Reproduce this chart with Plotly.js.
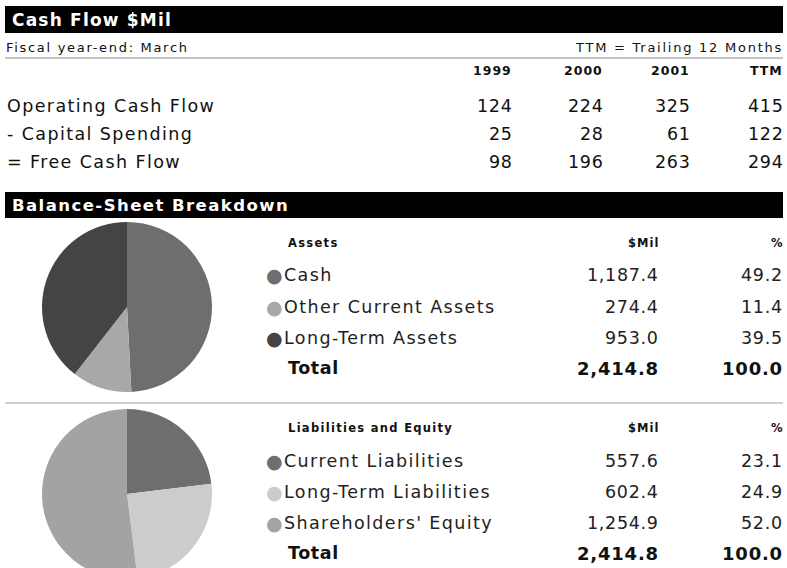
<!DOCTYPE html>
<html>
<head>
<meta charset="utf-8">
<script src="https://cdn.plot.ly/plotly-3.0.1.min.js"></script>
<style>
html,body{margin:0;padding:0;overflow:hidden;background:#fff;}
#chart{width:787px;height:600px;}
</style>
</head>
<body>
<div id="chart"></div>
<script>
// ---- Data ----
const years = ['1999', '2000', '2001', 'TTM'];
const cashFlowLabels = ['Operating Cash Flow', '- Capital Spending', '= Free Cash Flow'];
const operatingCashFlow = [124, 224, 325, 415];
const capitalSpending = [25, 28, 61, 122];
const freeCashFlow = [98, 196, 263, 294];

const assetLabels = ['Cash', 'Other Current Assets', 'Long-Term Assets'];
const assetValues = [1187.4, 274.4, 953.0];
const assetPct = [49.2, 11.4, 39.5];
const assetTotal = 2414.8;
const assetPctTotal = 100.0;

const liabLabels = ['Current Liabilities', 'Long-Term Liabilities', "Shareholders' Equity"];
const liabValues = [557.6, 602.4, 1254.9];
const liabPct = [23.1, 24.9, 52.0];
const liabTotal = 2414.8;
const liabPctTotal = 100.0;

// ---- Styles ----
const assetColors = ['#6e6e6e', '#a8a8a8', '#444444'];
const liabColors = ['#6e6e6e', '#cccccc', '#a3a3a3'];

const W = 787, H = 600;
const FAM = 'DejaVu Sans, Verdana, sans-serif';
function fmt(v) { return v.toLocaleString('en-US', {minimumFractionDigits: 1, maximumFractionDigits: 1}); }
function sp(text, ls, bold) {
  const t = '<span style="letter-spacing:' + ls + 'px">' + text + '</span>';
  return bold ? '<b>' + t + '</b>' : t;
}
function A(text, x, y, xanchor, size, color) {
  return {xref: 'paper', yref: 'paper', x: x / W, y: 1 - y / H, xanchor: xanchor, yanchor: 'middle',
    text: text, showarrow: false, borderpad: 0, font: {family: FAM, size: size, color: color || '#111'}};
}
const ann = [];
const shapes = [];
function rect(x0, y0, x1, y1, color) {
  shapes.push({type: 'rect', xref: 'paper', yref: 'paper', x0: x0 / W, x1: x1 / W, y0: 1 - y1 / H, y1: 1 - y0 / H,
    fillcolor: color, line: {width: 0}, layer: 'below'});
}
const LBL = 1.4, NUM = 0.7, HDR = 1.3;

// Cash flow header
rect(5, 6, 783, 33, '#000');
ann.push(A(sp('Cash Flow $Mil', 1.2, true), 11, 20, 'left', 17, '#fff'));
ann.push(A(sp('Fiscal year-end: March', 1.7), 5, 47, 'left', 13));
ann.push(A(sp('TTM = Trailing 12 Months', 1.75), 784, 47, 'right', 13));
rect(5, 57, 783, 59, '#c4c4c4');

const colRight = [513, 604, 691, 784];
years.forEach((y, i) => ann.push(A(sp(y, 1, true), colRight[i], 71, 'right', 12.5)));
const cfSeries = [operatingCashFlow, capitalSpending, freeCashFlow];
const cfY = [106, 134, 162];
cashFlowLabels.forEach((lab, r) => {
  ann.push(A(sp(lab, LBL), 6, cfY[r], 'left', 17.5));
  cfSeries[r].forEach((v, i) => ann.push(A(sp(String(v), NUM), colRight[i] + 1, cfY[r], 'right', 17.5)));
});

// Balance sheet header
rect(5, 192, 783, 218, '#000');
ann.push(A(sp('Balance-Sheet Breakdown', 1.45, true), 11, 205, 'left', 16.5, '#fff'));

function section(title, labels, values, pct, total, pctTotal, colors, ys) {
  ann.push(A(sp(title, HDR, true), 287, ys[0], 'left', 11.5));
  ann.push(A(sp('$Mil', 1, true), 660, ys[0], 'right', 11.5));
  ann.push(A(sp('%', 0, true), 784, ys[0], 'right', 11.5));
  labels.forEach((lab, i) => {
    ann.push(A('●', 265, ys[i + 1], 'left', 19, colors[i]));
    ann.push(A(sp(lab, LBL), 283, ys[i + 1], 'left', 17.5, '#222'));
    ann.push(A(sp(fmt(values[i]), NUM), 660, ys[i + 1], 'right', 17.5, '#222'));
    ann.push(A(sp(fmt(pct[i]), NUM), 784, ys[i + 1], 'right', 17.5, '#222'));
  });
  ann.push(A(sp('Total', 0.6, true), 287, ys[4], 'left', 17.5));
  ann.push(A(sp(fmt(total), 0.8, true), 660, ys[4], 'right', 18));
  ann.push(A(sp(fmt(pctTotal), 0.8, true), 784, ys[4], 'right', 18));
}
section('Assets', assetLabels, assetValues, assetPct, assetTotal, assetPctTotal, assetColors, [243, 275, 307, 338, 368]);
rect(5, 402, 783, 404, '#cfcfcf');
section('Liabilities and Equity', liabLabels, liabValues, liabPct, liabTotal, liabPctTotal, liabColors, [428, 461, 492, 523, 553]);

function pieTrace(labels, values, colors, cy) {
  const r = 85, cx = 127;
  return {type: 'pie', labels: labels, values: values, sort: false, direction: 'clockwise', rotation: 0,
    textinfo: 'none', hoverinfo: 'label+percent', showlegend: false,
    marker: {colors: colors, line: {width: 0}},
    domain: {x: [(cx - r) / W, (cx + r) / W], y: [1 - (cy + r) / H, 1 - (cy - r) / H]}};
}
const data = [
  pieTrace(assetLabels, assetValues, assetColors, 307),
  pieTrace(liabLabels, liabValues, liabColors, 494)
];

Plotly.newPlot('chart', data, {
  width: W, height: H, margin: {l: 0, r: 0, t: 0, b: 0},
  paper_bgcolor: '#fff', plot_bgcolor: '#fff',
  annotations: ann, shapes: shapes
}, {displayModeBar: false, staticPlot: true});
</script>
</body>
</html>
